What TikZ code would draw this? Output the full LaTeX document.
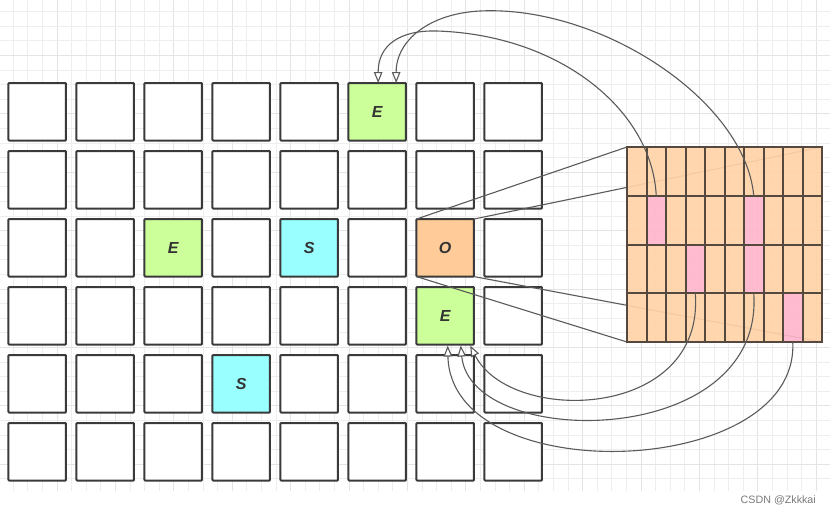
\documentclass[tikz,border=0pt]{standalone}
\usepackage{fontspec}
\setmainfont{Liberation Sans}
\usetikzlibrary{arrows.meta}
\definecolor{gridc}{HTML}{EEEEEE}
\definecolor{gridm}{HTML}{E4E4E4}
\definecolor{cellb}{HTML}{3A3A3A}
\definecolor{panelb}{HTML}{55483E}
\definecolor{cgreen}{HTML}{CCFF99}
\definecolor{ccyan}{HTML}{99FFFF}
\definecolor{corange}{HTML}{FFCC99}
\definecolor{cpeach}{HTML}{FFD3A8}
\definecolor{cpink}{HTML}{FFB6CB}
\definecolor{linec}{HTML}{5A5A5A}
\definecolor{txtc}{HTML}{333333}
\definecolor{wmark}{HTML}{7A7A7A}
\expandafter\def\csname cs@1-6\endcsname{cgreen}
\expandafter\def\csname cl@1-6\endcsname{E}
\expandafter\def\csname cs@3-3\endcsname{cgreen}
\expandafter\def\csname cl@3-3\endcsname{E}
\expandafter\def\csname cs@3-5\endcsname{ccyan}
\expandafter\def\csname cl@3-5\endcsname{S}
\expandafter\def\csname cs@3-7\endcsname{corange}
\expandafter\def\csname cl@3-7\endcsname{O}
\expandafter\def\csname cs@4-7\endcsname{cgreen}
\expandafter\def\csname cl@4-7\endcsname{E}
\expandafter\def\csname cs@5-4\endcsname{ccyan}
\expandafter\def\csname cl@5-4\endcsname{S}
\expandafter\def\csname ps@2-2\endcsname{}
\expandafter\def\csname ps@2-7\endcsname{}
\expandafter\def\csname ps@3-4\endcsname{}
\expandafter\def\csname ps@3-7\endcsname{}
\expandafter\def\csname ps@4-9\endcsname{}
\begin{document}
\begin{tikzpicture}[x=1pt,y=-1pt,
  gridline/.style={draw=gridc,line width=1pt},
  gridmajor/.style={draw=gridm,line width=1pt},
  cell/.style={draw=cellb,line width=2pt,minimum size=57.5pt,inner sep=0pt,outer sep=0pt,
    rounded corners=0.8pt,text=txtc,font=\fontsize{16}{18}\selectfont\bfseries\itshape},
  pcell/.style={minimum width=19.5pt,minimum height=48.75pt,
    inner sep=0pt,outer sep=0pt,fill opacity=0.92},
  pline/.style={draw=panelb,line width=2pt},
  ray/.style={draw=linec,line width=1.1pt},
  conn/.style={draw=linec,line width=1.1pt,-{Triangle[open,length=11pt,width=8.5pt,fill=white]}}]
\useasboundingbox (0,0) rectangle (830,515);
\fill[white] (0,0) rectangle (830,515);
% background grid
\foreach \i in {0,...,55}{
  \pgfmathtruncatemacro{\m}{mod(\i,4)}
  \ifnum\m=3 \draw[gridmajor] ({13.3+14.6*\i},0) -- ({13.3+14.6*\i},491);
  \else \draw[gridline] ({13.3+14.6*\i},0) -- ({13.3+14.6*\i},491); \fi
}
\foreach \j in {0,...,32}{
  \pgfmathtruncatemacro{\m}{mod(\j,4)}
  \ifnum\m=3 \draw[gridmajor] (0,{11.7+14.6*\j}) -- (830,{11.7+14.6*\j});
  \else \draw[gridline] (0,{11.7+14.6*\j}) -- (830,{11.7+14.6*\j}); \fi
}
% board
\foreach \r in {1,...,6}{
  \foreach \c in {1,...,8}{
    \ifcsname cs@\r-\c\endcsname
      \edef\fc{\csname cs@\r-\c\endcsname}\edef\lab{\csname cl@\r-\c\endcsname}
    \else \def\fc{white}\def\lab{}\fi
    \node[cell,fill=\fc] (g-\r-\c) at ({37.2+68*(\c-1)},{111.8+68*(\r-1)}) {\lab};
  }
}
% rays from O to the panel corners (panel drawn over them)
\coordinate (pnw) at (627,147);
\coordinate (pne) at (822,147);
\coordinate (psw) at (627,342);
\coordinate (pse) at (822,342);
\draw[ray] (g-3-7.north west) -- (pnw);
\draw[ray] (g-3-7.north east) -- (pne);
\draw[ray] (g-3-7.south west) -- (psw);
\draw[ray] (g-3-7.south east) -- (pse);
% panel cells (fills)
\foreach \i in {1,...,4}{
  \foreach \j in {1,...,10}{
    \ifcsname ps@\i-\j\endcsname \def\pc{cpink}\else \def\pc{cpeach}\fi
    \node[pcell,fill=\pc] (p-\i-\j) at ({627+19.5*(\j-0.5)},{147+48.75*(\i-0.5)}) {};
  }
}
% panel lines (snapped to whole pixels)
\foreach \k in {1,...,9}{
  \pgfmathsetmacro{\xx}{round(627+19.5*\k)}
  \draw[pline] (\xx,147) -- (\xx,342);
}
\foreach \k in {1,...,3}{
  \pgfmathsetmacro{\yy}{round(147+48.75*\k)}
  \draw[pline] (627,\yy) -- (822,\yy);
}
\draw[pline] (pnw) rectangle (pse);
% arrow end points
\coordinate (t1) at ([xshift=1pt]g-1-6.north);
\coordinate (t2) at ([xshift=19pt]g-1-6.north);
\coordinate (b1) at ([xshift=2.5pt,yshift=-1pt]g-4-7.south);
\coordinate (b2) at ([xshift=15.5pt,yshift=-1pt]g-4-7.south);
\coordinate (b3) at ([xshift=25pt,yshift=-1pt]g-4-7.south);
% curved connectors
\draw[conn] (p-2-2.north) .. controls (652,110) and (560,35) .. (437,31)
                          .. controls (400,30) and (378,45) .. (t1);
\draw[conn] (p-2-7.north) .. controls (745,100) and (600,5) .. (480,11)
                          .. controls (430,13.5) and (396,40) .. (t2);
\draw[conn] (p-3-4.south) .. controls +(10,127) and +(40,80) .. (b3);
\draw[conn] (p-3-7.south) .. controls +(11,157) and +(10,105) .. (b2);
\draw[conn] (p-4-9.south) .. controls +(7,138) and +(3,145) .. (b1);
% watermark
\node[text=wmark,font=\fontsize{10.7}{12}\selectfont,anchor=east,inner sep=0pt] (wm) at (816,500) {CSDN @Zkkkai};
\end{tikzpicture}
\end{document}
